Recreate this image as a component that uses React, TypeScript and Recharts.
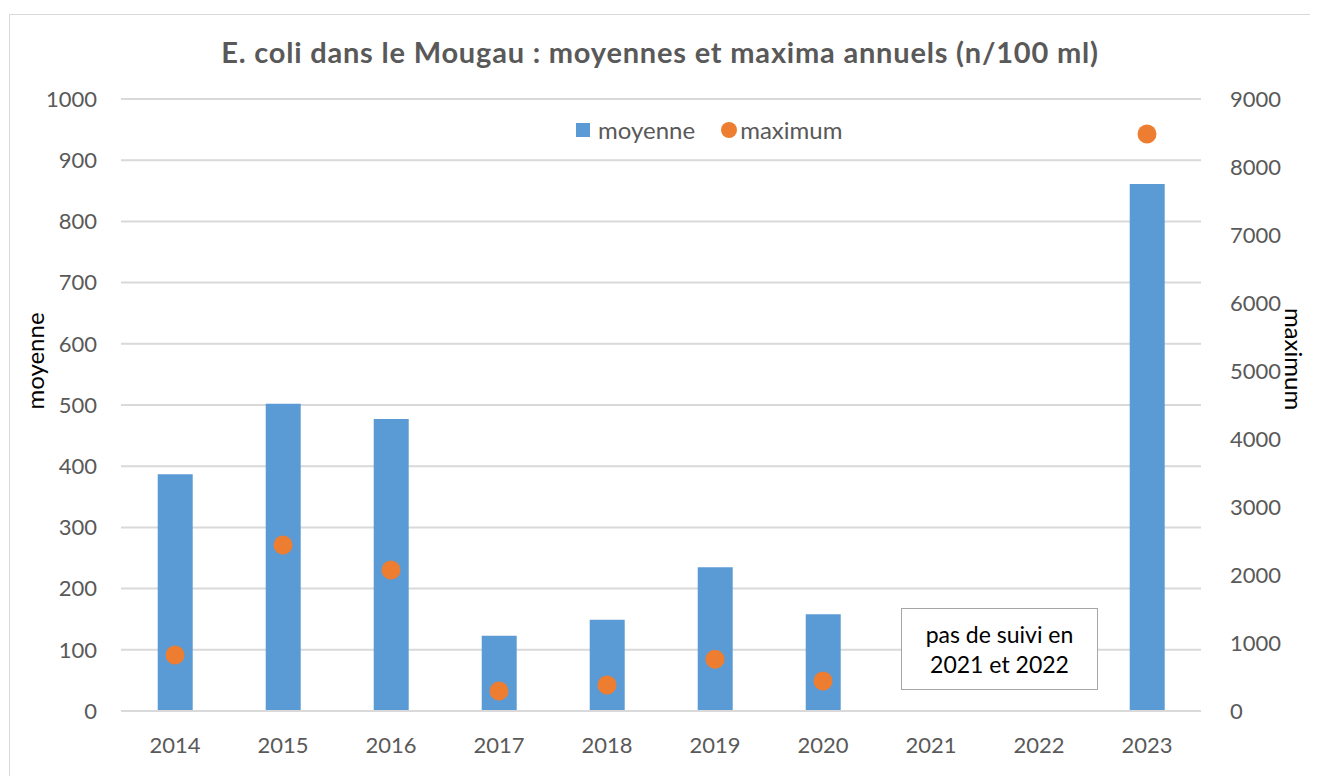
import { Bar, CartesianGrid, ComposedChart, Legend, Line, XAxis, YAxis } from "recharts";

const years = ["2014", "2015", "2016", "2017", "2018", "2019", "2020", "2021", "2022", "2023"];
const moyenne = [387, 502, 477, 123, 149, 235, 158, null, null, 861];
const maximum = [823, 2441, 2074, 294, 382, 760, 441, null, null, 8485];
const leftTicks = [0, 100, 200, 300, 400, 500, 600, 700, 800, 900, 1000];
const rightTicks = [0, 1000, 2000, 3000, 4000, 5000, 6000, 7000, 8000, 9000];

const BLUE = "#5B9BD5";
const ORANGE = "#ED7D31";
const GREY = "#595959";
const FONT = "Lato, 'Open Sans', sans-serif";

const data = years.map((year, i) => ({ year, moyenne: moyenne[i], maximum: maximum[i] }));

const tick = { fontSize: 22, fill: GREY, fontFamily: FONT };

function LegendContent() {
  return (
    <div style={{ display: "flex", alignItems: "center", paddingLeft: 566, fontFamily: FONT, fontSize: 24, color: GREY, whiteSpace: "nowrap" }}>
      <span style={{ width: 14, height: 14, background: BLUE, display: "inline-block", marginRight: 8 }} />
      <span style={{ marginRight: 26 }}>moyenne</span>
      <span style={{ width: 16, height: 16, borderRadius: "50%", background: ORANGE, display: "inline-block", marginRight: 3 }} />
      <span>maximum</span>
    </div>
  );
}

export default function App() {
  return (
    <div
      style={{
        marginLeft: 1,
        marginTop: 6,
        width: 1300,
        height: 770,
        border: "1.5px solid #d9d9d9",
        position: "relative",
        background: "#fff",
      }}
    >
      <div
        style={{
          position: "absolute",
          top: 19,
          left: 0,
          width: 1300,
          textAlign: "center",
          fontFamily: FONT,
          fontWeight: 700,
          fontSize: 29,
          letterSpacing: 0.8,
          color: GREY,
          lineHeight: "36px",
        }}
      >
        E. coli dans le Mougau : moyennes et maxima annuels (n/100 ml)
      </div>
      <ComposedChart width={1300} height={760} data={data} margin={{ top: 84, right: 0, left: 0, bottom: 0 }} barCategoryGap="34%">
        <CartesianGrid vertical={false} stroke="#d9d9d9" strokeWidth={2} yAxisId="left" />
        <XAxis
          dataKey="year"
          height={64}
          tick={tick}
          tickLine={false}
          tickSize={0}
          tickMargin={26}
          axisLine={{ stroke: "#d9d9d9", strokeWidth: 2 }}
        />
        <YAxis
          yAxisId="left"
          width={111}
          domain={[0, 1000]}
          ticks={leftTicks}
          tick={tick}
          tickLine={false}
          axisLine={false}
          tickSize={0}
          tickMargin={24}
          label={{
            content: () => (
              <text x={24} y={346} transform="rotate(-90 24 346)" textAnchor="middle" dominantBaseline="central" fontSize={24} fontFamily={FONT} fill="#000">
                moyenne
              </text>
            ),
          }}
        />
        <YAxis
          yAxisId="right"
          orientation="right"
          width={109}
          domain={[0, 9000]}
          ticks={rightTicks}
          tick={{ ...tick, textAnchor: "start" }}
          tickLine={false}
          axisLine={false}
          tickSize={0}
          tickMargin={29}
          label={{
            content: () => (
              <text x={1284} y={344} transform="rotate(90 1284 344)" textAnchor="middle" dominantBaseline="central" fontSize={24} fontFamily={FONT} fill="#000">
                maximum
              </text>
            ),
          }}
        />
        <Legend
          layout="horizontal"
          verticalAlign="middle"
          align="center"
          content={<LegendContent />}
          wrapperStyle={{ top: 100, left: 0, width: 1300 }}
        />
        <Bar yAxisId="left" dataKey="moyenne" fill={BLUE} isAnimationActive={false} />
        <Line
          yAxisId="right"
          dataKey="maximum"
          stroke="none"
          dot={{ r: 9.5, fill: ORANGE, stroke: "none" }}
          activeDot={false}
          isAnimationActive={false}
        />
      </ComposedChart>
      <div
        style={{
          position: "absolute",
          left: 891,
          top: 593,
          width: 195,
          height: 80,
          border: "1.5px solid #a6a6a6",
          display: "flex",
          flexDirection: "column",
          justifyContent: "center",
          alignItems: "center",
          fontFamily: FONT,
          fontSize: 23,
          lineHeight: "30px",
          color: "#000",
          background: "#fff",
        }}
      >
        <div>pas de suivi en</div>
        <div>2021 et 2022</div>
      </div>
    </div>
  );
}
